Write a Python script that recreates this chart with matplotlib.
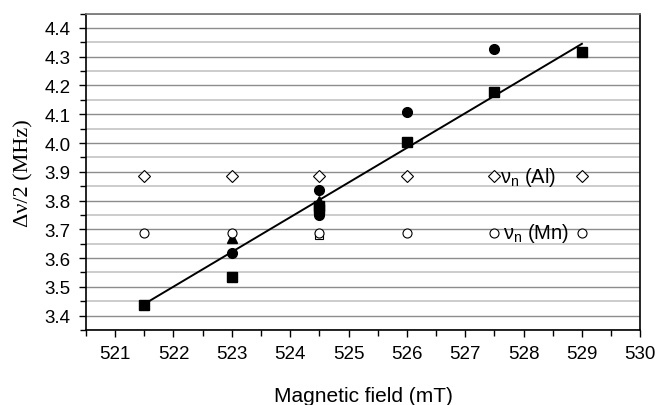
#!/usr/bin/env python3

import matplotlib
matplotlib.use('Agg')
import matplotlib.pyplot as plt
from matplotlib.ticker import MultipleLocator

# field values (mT) where the nuclear frequencies are marked
nu_x = [521.5, 523.0, 524.5, 526.0, 527.5, 529.0]
nu_al = [3.885, 3.885, 3.885, 3.885, 3.885, 3.885]
nu_mn = [3.687, 3.687, 3.687, 3.687, 3.687, 3.687]

# measured half splittings
sq_x = [521.5, 523.0, 524.5, 524.5, 526.0, 527.5, 529.0]
sq_y = [3.435, 3.535, 3.770, 3.780, 4.003, 4.177, 4.318]

circ_x = [523.0, 524.5, 524.5, 526.0, 527.5]
circ_y = [3.616, 3.838, 3.750, 4.107, 4.328]

tri_x = [523.0, 524.5]
tri_y = [3.669, 3.800]

open_sq_x = [524.5]
open_sq_y = [3.681]

# linear fit
fit_x = [521.5, 529.0]
fit_y = [3.440, 4.345]

xticks = [521, 522, 523, 524, 525, 526, 527, 528, 529, 530]
yticks = [3.4, 3.5, 3.6, 3.7, 3.8, 3.9, 4.0, 4.1, 4.2, 4.3, 4.4]


def main():
    plt.rcParams['font.family'] = ['Liberation Sans', 'DejaVu Sans']
    plt.rcParams['mathtext.fontset'] = 'custom'
    plt.rcParams['mathtext.rm'] = 'Liberation Sans'

    fig = plt.figure(figsize=(6.56, 4.06), dpi=100)
    ax = fig.add_axes([0.131, 0.185, 0.845, 0.779])

    ax.set_xlim(520.5, 530)
    ax.set_ylim(3.35, 4.45)

    ax.yaxis.set_minor_locator(MultipleLocator(0.05))
    ax.xaxis.set_minor_locator(MultipleLocator(0.5))
    ax.grid(True, which='major', axis='y', color='#8c8c8c', linewidth=1.0)
    ax.grid(True, which='minor', axis='y', color='#c4c4c4', linewidth=1.2)
    ax.set_axisbelow(True)

    ax.plot(fit_x, fit_y, color='black', linewidth=1.4, zorder=3)

    ax.plot(open_sq_x, open_sq_y, 's', markersize=6, markerfacecolor='white',
            markeredgecolor='black', markeredgewidth=0.8, zorder=3)
    ax.plot(tri_x, tri_y, '^', markersize=7, color='black', zorder=4)
    ax.plot(nu_x, nu_al, 'D', markersize=6.5, markerfacecolor='white',
            markeredgecolor='black', markeredgewidth=0.8, zorder=5)
    ax.plot(nu_x, nu_mn, 'o', markersize=6.5, markerfacecolor='white',
            markeredgecolor='black', markeredgewidth=0.8, zorder=5)
    ax.plot(sq_x, sq_y, 's', markersize=6.5, color='black', zorder=4)
    ax.plot(circ_x, circ_y, 'o', markersize=7, color='black', zorder=4)

    ax.text(527.6, 3.885, r'$\mathregular{ν_n}$ (Al)', fontsize=14.5,
            va='center', ha='left', zorder=6)
    ax.text(527.65, 3.687, r'$\mathregular{ν_n}$ (Mn)', fontsize=14.5,
            va='center', ha='left', zorder=6)

    ax.set_xticks(xticks)
    ax.set_yticks(yticks)
    ax.set_xticklabels([str(v) for v in xticks])
    ax.set_yticklabels(['%.1f' % v for v in yticks])
    ax.tick_params(axis='both', which='major', labelsize=13.5, length=5,
                   width=1, direction='out', pad=6)
    ax.tick_params(axis='both', which='minor', length=4, width=1,
                   direction='out')

    ax.spines['top'].set_color('#707070')
    ax.spines['top'].set_linewidth(1.2)
    for side in ['left', 'bottom', 'right']:
        ax.spines[side].set_color('black')
        ax.spines[side].set_linewidth(1.2)

    ax.set_xlabel('Magnetic field (mT)', fontsize=15, labelpad=17)
    ax.set_ylabel('Δν/2 (MHz)', fontsize=16, family='Liberation Serif',
                  labelpad=8)

    fig.savefig('out.png', dpi=100)


if __name__ == '__main__':
    main()
